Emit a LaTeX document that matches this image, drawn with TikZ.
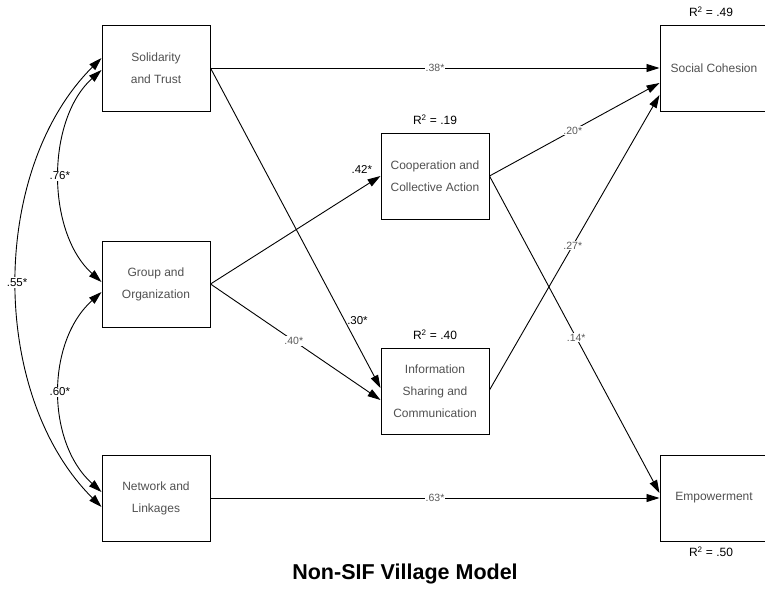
\documentclass[tikz,border=0pt]{standalone}
\usepackage{fontspec}
\setmainfont{Liberation Sans}
\usetikzlibrary{arrows.meta}
\definecolor{boxtext}{HTML}{505050}
\definecolor{labtext}{HTML}{5A5A5A}
\begin{document}
\begin{tikzpicture}[x=1pt,y=-1pt,
  var/.style={draw=black,line width=1pt,minimum width=108pt,minimum height=86pt,
    inner sep=0pt,align=center,font=\fontsize{12}{22}\selectfont,text=boxtext},
  path/.style={line width=0.9pt,-{Triangle[length=13pt,width=8pt]}},
  cov/.style={line width=0.9pt,{Triangle[length=13pt,width=8pt]}-{Triangle[length=13pt,width=8pt]}},
  lab/.style={fill=white,inner sep=1pt,font=\fontsize{10.5}{11}\selectfont,text=labtext},
  blab/.style={inner sep=1pt,font=\fontsize{11.5}{12}\selectfont,text=black},
  rsq/.style={inner sep=0pt,font=\fontsize{12}{12}\selectfont,text=black}]
\useasboundingbox (0,0) rectangle (765,590);

\node[var] (sol) at (156,68) {Solidarity\\and Trust};
\node[var] (grp) at (156,284) {Group and\\Organization};
\node[var] (net) at (156,498) {Network and\\Linkages};
\node[var] (coop) at (435,176) {Cooperation and\\Collective Action};
\node[var] (info) at (435,391) {Information\\Sharing and\\Communication};
\node[var] (soc) at (714,68) {Social Cohesion};
\node[var] (emp) at (714,498) {Empowerment};

\node[rsq] (r1) at (711,12) {R\textsuperscript{2} = .49};
\node[rsq] (r2) at (435,120) {R\textsuperscript{2} = .19};
\node[rsq] (r3) at (435,335) {R\textsuperscript{2} = .40};
\node[rsq] (r4) at (711,552) {R\textsuperscript{2} = .50};

\node[font=\bfseries\fontsize{21.5}{24}\selectfont] (title) at (405,574) {Non-SIF Village Model};

% direct paths
\draw[path] (sol.east) -- node[lab,pos=0.5] {.38*} (soc.west);
\draw[path] (sol.east) -- node[blab,pos=0.79,right=1pt] {.30*} ([yshift=3pt]info.west);
\draw[path] (grp.east) -- node[blab,pos=0.89,above=13pt] {.42*} (coop.west);
\draw[path] (grp.east) -- node[lab,pos=0.49] {.40*} ([yshift=-9pt]info.west);
\draw[path] (net.east) -- node[lab,pos=0.5] {.63*} (emp.west);
\draw[path] (coop.east) -- node[lab,pos=0.49] {.20*} ([yshift=-15pt]soc.west);
\draw[path] (coop.east) -- node[lab,pos=0.51] {.14*} ([yshift=5pt]emp.west);
\draw[path] ([yshift=1pt]info.east) -- node[lab,pos=0.49] {.27*} ([yshift=-27pt]soc.west);

% correlations
\draw[cov] ([yshift=-2pt]sol.west) .. controls (46,120) and (46,232) ..
  node[blab,fill=white,pos=0.5] {.76*} ([yshift=2pt]grp.west);
\draw[cov] ([yshift=-8pt]grp.west) .. controls (46,342) and (46,442) ..
  node[blab,fill=white,pos=0.5] {.60*} ([yshift=6pt]net.west);
\draw[cov] ([yshift=10pt]sol.west) .. controls (-11,170) and (-11,395) ..
  node[blab,fill=white,pos=0.5] {.55*} ([yshift=-9pt]net.west);
\end{tikzpicture}
\end{document}
